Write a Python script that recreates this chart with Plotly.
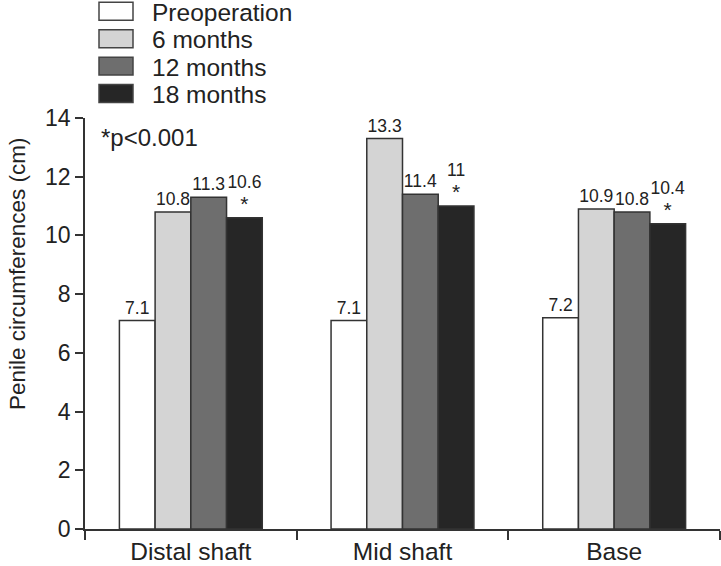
import plotly.graph_objects as go

categories = ["Distal shaft", "Mid shaft", "Base"]
series_names = ["Preoperation", "6 months", "12 months", "18 months"]
preop = [7.1, 7.1, 7.2]
m6 = [10.8, 13.3, 10.9]
m12 = [11.3, 11.4, 10.8]
m18 = [10.6, 11.0, 10.4]
series_values = [preop, m6, m12, m18]
significant = [False, False, False, True]
colors = ["#ffffff", "#d4d4d4", "#6e6e6e", "#262626"]
y_ticks = [0, 2, 4, 6, 8, 10, 12, 14]

W, H = 721, 566
PLOT_L, PLOT_R, PLOT_T, PLOT_B = 85, 720, 117.5, 529.5  # page pixels
ML, MR, MT, MB = PLOT_L, W - PLOT_R, PLOT_T, H - PLOT_B
PW, PH = W - ML - MR, H - MT - MB
FONT = "Liberation Sans, Arial, sans-serif"
TXT = "#222222"
LABEL_SIZE = 17.5


def px(x):
    return (x - ML) / PW


def py(y):
    return (H - MB - y) / PH


fig = go.Figure()
for name, vals, col, sig in zip(series_names, series_values, colors, significant):
    if sig:
        labels = ["%g<br><span style='font-size:21px'>*</span>" % v for v in vals]
    else:
        labels = ["%g" % v for v in vals]
    fig.add_trace(go.Bar(
        x=categories, y=vals, name=name,
        marker=dict(color=col, line=dict(color="#333333", width=1.5)),
        text=labels, textposition="outside", cliponaxis=False,
        textfont=dict(family=FONT, size=LABEL_SIZE, color=TXT),
        showlegend=False,
    ))

shapes = []
annotations = []
row_tops = [1.5, 29, 56.5, 84]
for name, col, top in zip(series_names, colors, row_tops):
    shapes.append(dict(type="rect", xref="paper", yref="paper",
                       x0=px(99), x1=px(133), y0=py(top + 18), y1=py(top),
                       fillcolor=col, line=dict(color="#444444", width=1.5)))
    annotations.append(dict(xref="paper", yref="paper", x=px(150), y=py(top + 10),
                            xanchor="left", yanchor="middle", showarrow=False,
                            text=name, font=dict(family=FONT, size=24.5, color=TXT)))
annotations.append(dict(xref="paper", yref="paper", x=px(99), y=py(137),
                        xanchor="left", yanchor="middle", showarrow=False,
                        text="*p<0.001", font=dict(family=FONT, size=24, color=TXT)))
annotations.append(dict(xref="paper", yref="paper", x=px(17), y=py(274),
                        xanchor="center", yanchor="middle", showarrow=False,
                        textangle=-90, text="Penile circumferences (cm)",
                        font=dict(family=FONT, size=22.5, color=TXT)))

fig.update_layout(
    width=W, height=H,
    margin=dict(l=ML, r=MR, t=MT, b=MB, autoexpand=False),
    paper_bgcolor="white", plot_bgcolor="white",
    barmode="group", bargap=0.325, bargroupgap=0,
    font=dict(family=FONT, size=24, color=TXT),
    shapes=shapes, annotations=annotations,
    xaxis=dict(type="category", showline=True, linecolor="#333333", linewidth=1.5,
               ticks="outside", tickson="boundaries", ticklen=9, tickwidth=1.5,
               tickcolor="#333333", showgrid=False, automargin=False,
               tickfont=dict(family=FONT, size=24.5, color=TXT)),
    yaxis=dict(range=[0, 14], tickvals=y_ticks, showline=True, linecolor="#333333",
               linewidth=1.5, ticks="outside", ticklen=8, tickwidth=1.5,
               tickcolor="#333333", showgrid=False, zeroline=False, automargin=False,
               tickfont=dict(family=FONT, size=23, color=TXT)),
)

fig.write_html("out.html", config={"displayModeBar": False},
               post_script="document.body.style.margin='0px';"
                           "document.body.style.overflow='hidden';")
